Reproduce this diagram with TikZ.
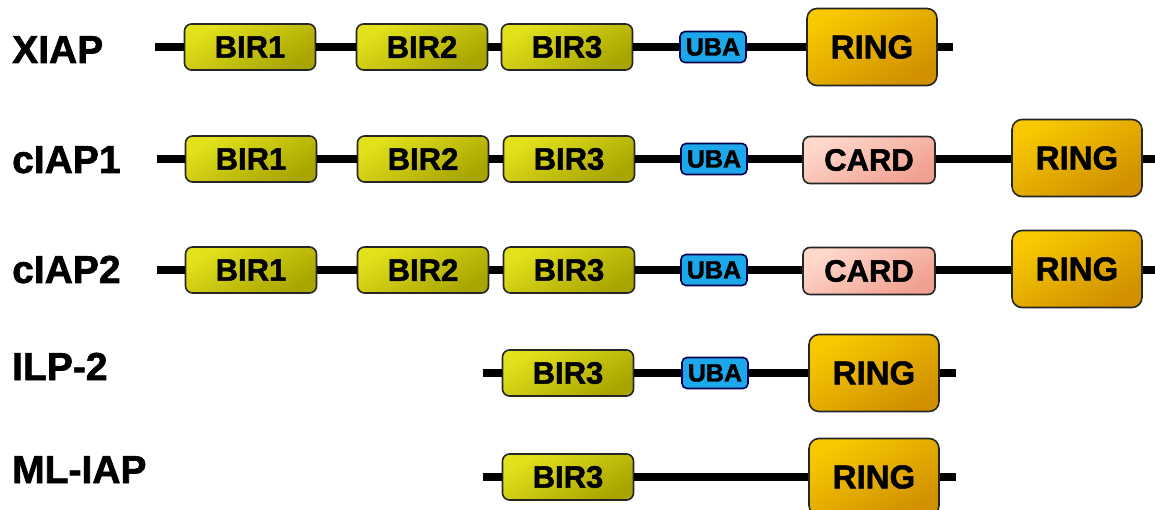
\documentclass[tikz,border=0pt]{standalone}
\usepackage{fontspec}
\setmainfont[BoldFeatures={FakeBold=1.6}]{Liberation Sans}
\begin{document}
\begin{tikzpicture}[x=1pt,y=-1pt,
  dom/.style={draw=black!85, line width=1.6pt, rounded corners=7pt, inner sep=0pt,
    font=\fontsize{31}{31}\selectfont\bfseries, text=black},
  bir/.style={dom, minimum width=131pt, minimum height=46pt,
    top color=bira, bottom color=birb, shading angle=30},
  uba/.style={dom, minimum width=66pt, minimum height=31pt, rounded corners=5pt,
    fill=ubac, draw=black!70!blue, font=\fontsize{25}{25}\selectfont\bfseries},
  ring/.style={dom, minimum width=130pt, minimum height=77pt, rounded corners=10pt,
    top color=ringa, bottom color=ringb, shading angle=30, font=\fontsize{33}{33}\selectfont\bfseries},
  card/.style={dom, minimum width=132pt, minimum height=47pt,
    top color=carda, bottom color=cardb, shading angle=30},
  lab/.style={anchor=base west, inner sep=0pt, font=\fontsize{39}{39}\selectfont\bfseries, text=black},
  bb/.style={line width=7.5pt, black}
]
\definecolor{bira}{HTML}{E2E21C}
\definecolor{birb}{HTML}{A8A400}
\definecolor{ringa}{HTML}{F8C800}
\definecolor{ringb}{HTML}{D09000}
\definecolor{carda}{HTML}{FFD8CC}
\definecolor{cardb}{HTML}{F0A090}
\definecolor{ubac}{HTML}{1EA8EC}
\useasboundingbox (0,0) rectangle (1155,510);

% XIAP
\node[lab] (lx) at (12,63) {XIAP};
\coordinate (xs) at (155,47);
\coordinate (xe) at (953,47);
\node[bir] (x1) at (250,47) {BIR1};
\node[bir] (x2) at (422,47) {BIR2};
\node[bir] (x3) at (567,47) {BIR3};
\node[uba] (xu) at (713,47) {UBA};
\node[ring] (xr) at (872,47) {RING};
\draw[bb] (xs) -- (x1) (x1) -- (x2) (x2) -- (x3) (x3) -- (xu) (xu) -- (xr) (xr) -- (xe);

% cIAP1
\node[lab] (l1) at (12,173) {cIAP1};
\coordinate (as) at (157,159);
\coordinate (ae) at (1160,159);
\node[bir] (a1) at (251,159) {BIR1};
\node[bir] (a2) at (423,159) {BIR2};
\node[bir] (a3) at (569,159) {BIR3};
\node[uba] (au) at (714,159) {UBA};
\node[card] (ac) at (869,160) {CARD};
\node[ring] (ar) at (1077,158) {RING};
\draw[bb] (as) -- (a1) (a1) -- (a2) (a2) -- (a3) (a3) -- (au) (au) -- (ac.west|-as) (ac.east|-as) -- (ar.west|-as) (ar.east|-as) -- (ae);

% cIAP2
\node[lab] (l2) at (12,283) {cIAP2};
\coordinate (bs) at (157,270);
\coordinate (be) at (1160,270);
\node[bir] (b1) at (251,270) {BIR1};
\node[bir] (b2) at (423,270) {BIR2};
\node[bir] (b3) at (569,270) {BIR3};
\node[uba] (bu) at (714,270) {UBA};
\node[card] (bc) at (869,271) {CARD};
\node[ring] (br) at (1077,269) {RING};
\draw[bb] (bs) -- (b1) (b1) -- (b2) (b2) -- (b3) (b3) -- (bu) (bu) -- (bc.west|-bs) (bc.east|-bs) -- (br.west|-bs) (br.east|-bs) -- (be);

% ILP-2
\node[lab] (l3) at (12,380) {ILP-2};
\coordinate (cs) at (483,373);
\coordinate (ce) at (956,373);
\node[bir] (c3) at (568,373) {BIR3};
\node[uba] (cu) at (715,373) {UBA};
\node[ring] (cr) at (874,373) {RING};
\draw[bb] (cs) -- (c3) (c3) -- (cu) (cu) -- (cr) (cr) -- (ce);

% ML-IAP
\node[lab] (l4) at (12,483) {ML-IAP};
\coordinate (ds) at (483,477);
\coordinate (de) at (956,477);
\node[bir] (d3) at (568,477) {BIR3};
\node[ring] (dr) at (874,477) {RING};
\draw[bb] (ds) -- (d3) (d3) -- (dr) (dr) -- (de);
\end{tikzpicture}
\end{document}
